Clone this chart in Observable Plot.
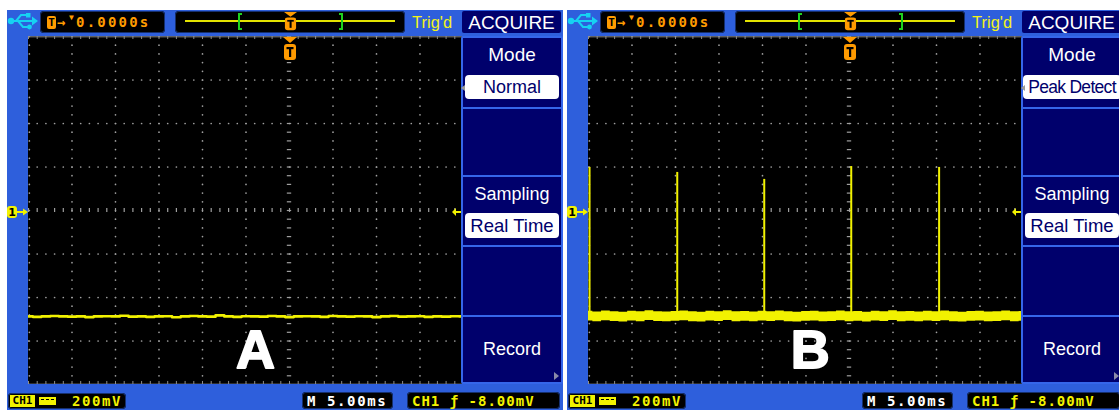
<!DOCTYPE html>
<html>
<head>
<meta charset="utf-8">
<script src="https://cdn.jsdelivr.net/npm/d3@7"></script>
<script src="https://cdn.jsdelivr.net/npm/@observablehq/plot@0.6"></script>
<style>
  html, body { margin:0; padding:0; background:#fff; }
  body { width:1119px; height:410px; position:relative; overflow:hidden; font-family:"Liberation Sans", Arial, sans-serif; }
  .panel { position:absolute; top:10px; width:556px; height:400px; background:#2e5fdc; overflow:hidden; }
  .abs { position:absolute; }
  .lcd { position:absolute; background:#000; border-radius:4px; box-shadow:inset 0 0 0 1px #16306e; white-space:pre;
         font-family:"DejaVu Sans Mono", monospace; font-weight:bold; font-size:14px; letter-spacing:1.6px; }
  .lcd span.t { position:absolute; top:0; height:100%; display:flex; align-items:center; }
  .screen { position:absolute; left:21px; top:26px; width:434px; height:348px; overflow:hidden; background:#000; }
  .screen svg { display:block; max-width:none !important; width:522px !important; height:348px !important; }
  .acq { position:absolute; left:455px; top:1px; width:99px; height:22px; background:#00006c; color:#fff;
         font-size:19px; line-height:23px; text-align:center; border-radius:2px; }
  .menu { position:absolute; left:454px; top:26px; width:98px; height:344px; background:#00006c; border:2px solid #3566ea; border-radius:2px; }
  .menu .lab { position:absolute; left:0; width:100%; height:22px; line-height:22px; text-align:center; color:#fff; font-size:18px; }
  .menu .sel { position:absolute; left:2px; width:94px; background:#fff; color:#00006c; border-radius:4px; text-align:center; font-size:18px; white-space:nowrap; }
  .menu .sep { position:absolute; left:0; width:100%; height:2px; background:#3566ea; }
  .trigd { position:absolute; left:405px; top:1px; height:22px; line-height:22px; color:#f2f21a; font-size:16.5px; }
</style>
</head>
<body>
<script>
// ---- Acquisition settings shown on both screens ----
const modeLabels   = ["Normal", "Peak Detect"];
const panelLetters = ["A", "B"];
const panelLefts   = [7, 567];
const letterTimes  = [-3.9, -4.5];   // ms, where the panel letter sits
const letterVolts  = [-0.645, -0.645];

// Screen grid: 5 ms/div horizontally (12 div), 200 mV/div vertically (8 div)
const divTimes   = [-30, -25, -20, -15, -10, -5, 0, 5, 10, 15, 20, 25, 30];
const divVolts   = [-0.8, -0.6, -0.4, -0.2, 0, 0.2, 0.4, 0.6, 0.8];
const minorTimes = d3.range(-30, 30.001, 1);
const minorVolts = d3.range(-0.8, 0.8001, 0.04).map(v => +v.toFixed(2));

// Sample instants (ms) for the captured record
const sampleTimes = d3.range(-30, 20.001, 1);

// Normal mode: a single flat, slightly noisy trace (V)
const traceNormal = [-0.487,-0.489,-0.487,-0.485,-0.487,-0.488,-0.487,-0.490,-0.487,-0.486,
                     -0.487,-0.484,-0.488,-0.487,-0.489,-0.487,-0.486,-0.491,-0.487,-0.485,
                     -0.487,-0.488,-0.482,-0.487,-0.489,-0.486,-0.487,-0.488,-0.485,-0.487,
                     -0.490,-0.487,-0.486,-0.487,-0.489,-0.485,-0.487,-0.488,-0.486,-0.487,
                     -0.490,-0.487,-0.485,-0.488,-0.487,-0.486,-0.489,-0.487,-0.488,-0.486,-0.487];

// Peak detect: min/max envelope of the noise band (V)
const peakHigh = [-0.463,-0.467,-0.462,-0.465,-0.468,-0.463,-0.466,-0.461,-0.465,-0.467,
                  -0.464,-0.462,-0.466,-0.468,-0.463,-0.465,-0.461,-0.466,-0.464,-0.467,
                  -0.463,-0.465,-0.462,-0.466,-0.468,-0.464,-0.463,-0.467,-0.465,-0.462,
                  -0.466,-0.464,-0.468,-0.463,-0.465,-0.461,-0.466,-0.464,-0.467,-0.463,
                  -0.465,-0.462,-0.466,-0.468,-0.464,-0.463,-0.467,-0.465,-0.462,-0.466,-0.464];
const peakLow  = [-0.508,-0.512,-0.507,-0.510,-0.513,-0.508,-0.511,-0.506,-0.510,-0.512,
                  -0.509,-0.507,-0.511,-0.513,-0.508,-0.510,-0.506,-0.511,-0.509,-0.512,
                  -0.508,-0.510,-0.507,-0.511,-0.513,-0.509,-0.508,-0.512,-0.510,-0.507,
                  -0.511,-0.509,-0.513,-0.508,-0.510,-0.506,-0.511,-0.509,-0.512,-0.508,
                  -0.510,-0.507,-0.511,-0.513,-0.509,-0.508,-0.512,-0.510,-0.507,-0.511,-0.509];

// Narrow glitches caught only in peak detect mode (ms, V)
const glitchTimes = [-29.88, -19.8, -9.8, 0.2, 10.3];
const glitchPeaks = [0.198, 0.175, 0.143, 0.202, 0.198];
const glitchBase  = -0.487;

const YELLOW = "#f2f200", GRID = "#8e8e8e", DOT = "#a0a0a0";

function gridMarks() {
  const hDots = [], vDots = [];
  for (const v of divVolts) if (v !== 0 && Math.abs(v) !== 0.8) for (const t of minorTimes) hDots.push({t, v});
  for (const t of divTimes) if (t !== 0 && t !== 30) for (const v of minorVolts) vDots.push({t: t === -30 ? -29.9 : t, v});
  return [
    Plot.dot(hDots, {x: "t", y: "v", r: 0.85, fill: DOT, stroke: null}),
    Plot.dot(vDots, {x: "t", y: "v", r: 0.85, fill: DOT, stroke: null}),
    // centre cross with minor-division dashes
    Plot.ruleX(minorTimes, {x: d => d, y1: -0.009, y2: 0.009, stroke: DOT, strokeWidth: 1.2}),
    Plot.ruleY(minorVolts, {y: d => d, x1: -0.25, x2: 0.25, stroke: DOT, strokeWidth: 1.2}),
    // frame edges with ticks
    Plot.ruleY([0.7985, -0.7985], {y: d => d, stroke: GRID, strokeWidth: 1}),
    Plot.ruleX(minorTimes, {x: d => d, y1: 0.8, y2: 0.786, stroke: GRID}),
    Plot.ruleX(minorTimes, {x: d => d, y1: -0.8, y2: -0.786, stroke: GRID})
  ];
}

function scope(traceMarks, i) {
  return Plot.plot({
    width: 522, height: 348, margin: 0,
    x: {domain: [-30, 30], axis: null},
    y: {domain: [-0.8, 0.8], axis: null},
    style: {background: "#000", maxWidth: "none"},
    marks: [
      ...gridMarks(),
      ...traceMarks,
      Plot.text([{t: letterTimes[i], v: letterVolts[i], s: panelLetters[i]}], {
        x: "t", y: "v", text: "s", fill: "#fff", stroke: "#fff", strokeWidth: 1.8,
        fontSize: 54, fontWeight: "bold", fontFamily: "Liberation Sans, Arial, sans-serif"
      })
    ]
  });
}

const normalRows = sampleTimes.map((t, i) => ({t, v: traceNormal[i]}));
const bandRows   = sampleTimes.map((t, i) => ({t, hi: peakHigh[i], lo: peakLow[i]}));
const glitchRows = glitchTimes.map((t, i) => ({t, base: glitchBase, peak: glitchPeaks[i]}));

const traces = [
  [Plot.line(normalRows, {x: "t", y: "v", stroke: YELLOW, strokeWidth: 2.6, curve: "step"})],
  [Plot.areaY(bandRows, {x: "t", y1: "lo", y2: "hi", fill: YELLOW, curve: "step"}),
   Plot.ruleX(glitchRows, {x: "t", y1: "base", y2: "peak", stroke: YELLOW, strokeWidth: 2})]
];

// ---- Instrument chrome ----
const usbIcon = `<svg class="abs" style="left:0;top:1px" width="31" height="20" viewBox="0 0 31 20">
  <g fill="#16d2f2" stroke="#16d2f2"><circle cx="4" cy="10" r="3.2" stroke="none"/>
  <line x1="4" y1="10" x2="26" y2="10" stroke-width="2"/>
  <path d="M25 5.5L31 10L25 14.5Z" stroke="none"/>
  <polyline points="9,10 14,4 20,4" fill="none" stroke-width="2"/><rect x="19" y="2" width="4.5" height="4.5" stroke="none"/>
  <polyline points="11,10 16,16 21,16" fill="none" stroke-width="2"/><circle cx="22.5" cy="16" r="2.4" stroke="none"/></g></svg>`;

function tMark(w, h) {
  return `<svg width="${w}" height="${h}" viewBox="0 0 14 24" preserveAspectRatio="none">
    <path d="M0 0H14L7 6Z" fill="#ff9a00"/><rect x="1" y="7" width="12" height="16" rx="3" fill="#ff9a00"/>
    <rect x="3.5" y="10" width="7" height="2.2" fill="#000"/><rect x="6" y="10" width="2.2" height="10" fill="#000"/></svg>`;
}
function bracket(flip) {
  return `<svg width="6" height="17" viewBox="0 0 6 17" style="transform:scaleX(${flip ? -1 : 1})">
    <path d="M5 1H2V16H5" fill="none" stroke="#1ed21e" stroke-width="2"/></svg>`;
}

panelLefts.forEach((left, i) => {
  const el = document.createElement("div");
  el.className = "panel";
  el.style.left = left + "px";
  el.innerHTML = `
    ${usbIcon}
    <div class="lcd" style="left:33px;top:1px;width:125px;height:22px;color:#ff9c00">
      <span class="t" style="left:7px"><span style="display:inline-block;width:9px;height:13px;background:#ff9c00;color:#000;border-radius:2px;font-size:11px;line-height:13px;text-align:center;letter-spacing:0">T</span></span>
      <span class="t" style="left:17px;letter-spacing:0">→</span>
      <span class="t" style="left:29px;top:-5px;font-size:8px;letter-spacing:0">▼</span>
      <span class="t" style="left:36px;letter-spacing:2.2px">0.0000s</span>
    </div>
    <div class="lcd" style="left:168px;top:1px;width:230px;height:22px">
      <div class="abs" style="left:10px;top:9px;width:210px;height:2px;background:#e4e400"></div>
      <div class="abs" style="left:62px;top:2px">${bracket(false)}</div>
      <div class="abs" style="left:163px;top:2px">${bracket(true)}</div>
      <div class="abs" style="left:109px;top:1px">${tMark(13, 19)}</div>
    </div>
    <div class="trigd">Trig'd</div>
    <div class="acq">ACQUIRE</div>
    <div class="screen"></div>
    <div class="abs" style="left:276px;top:27px">${tMark(14, 24)}</div>
    <svg class="abs" style="left:0;top:196px" width="21" height="12">
      <rect x="0" y="0" width="10" height="12" rx="3" fill="#f2f200"/>
      <text x="5" y="10" text-anchor="middle" font-family="DejaVu Sans" font-weight="bold" font-size="11" fill="#000">1</text>
      <line x1="10" y1="6" x2="18" y2="6" stroke="#f2f200" stroke-width="2"/><path d="M16 2.5L21 6L16 9.5Z" fill="#f2f200"/>
    </svg>
    <svg class="abs" style="left:445px;top:197px" width="9" height="10">
      <line x1="3" y1="5" x2="9" y2="5" stroke="#f2f200" stroke-width="2"/><path d="M4 1L0 5L4 9Z" fill="#f2f200"/>
    </svg>
    <div class="menu">
      <div class="lab" style="top:6px;font-size:19px">Mode</div>
      <div class="sel" style="top:37px;height:24px;line-height:24px;${i === 1 ? "font-size:17.5px;letter-spacing:-0.7px;left:0;width:98px" : ""}">${modeLabels[i]}</div>
      <div class="abs" style="left:-2px;top:47px;width:0;height:0;border-top:3px solid transparent;border-bottom:3px solid transparent;border-right:4px solid #9a9a9a"></div>
      <div class="sep" style="top:69px"></div>
      <div class="sep" style="top:137px"></div>
      <div class="lab" style="top:145px">Sampling</div>
      <div class="sel" style="top:175px;height:25px;line-height:25px;font-size:18.5px">Real Time</div>
      <div class="sep" style="top:207px"></div>
      <div class="sep" style="top:277px"></div>
      <div class="lab" style="top:300px">Record</div>
      <div class="abs" style="left:91px;top:334px;width:0;height:0;border-top:4px solid transparent;border-bottom:4px solid transparent;border-left:5px solid #8a8aa8"></div>
    </div>
    <div class="lcd" style="left:1px;top:383px;width:118px;height:16px;color:#f2f200">
      <span class="abs" style="left:2px;top:2px;width:25px;height:12px;background:#f2f200;color:#000;font-size:11px;line-height:12px;letter-spacing:0;text-align:center">CH1</span>
      <span class="abs" style="left:31px;top:4px;width:17px;height:8px;background:#f2f200"></span>
      <span class="abs" style="left:33px;top:6px;width:13px;height:0;border-top:1px dashed #000"></span>
      <span class="t" style="left:64px">200mV</span>
    </div>
    <div class="lcd" style="left:295px;top:382px;width:91px;height:17px;color:#fff">
      <span class="t" style="left:5px">M 5.00ms</span>
    </div>
    <div class="lcd" style="left:400px;top:382px;width:153px;height:17px;color:#f2f200">
      <span class="t" style="left:5px;letter-spacing:1px">CH1 ƒ -8.00mV</span>
    </div>`;
  document.body.appendChild(el);
  el.querySelector(".screen").appendChild(scope(traces[i], i));
});
</script>
</body>
</html>
